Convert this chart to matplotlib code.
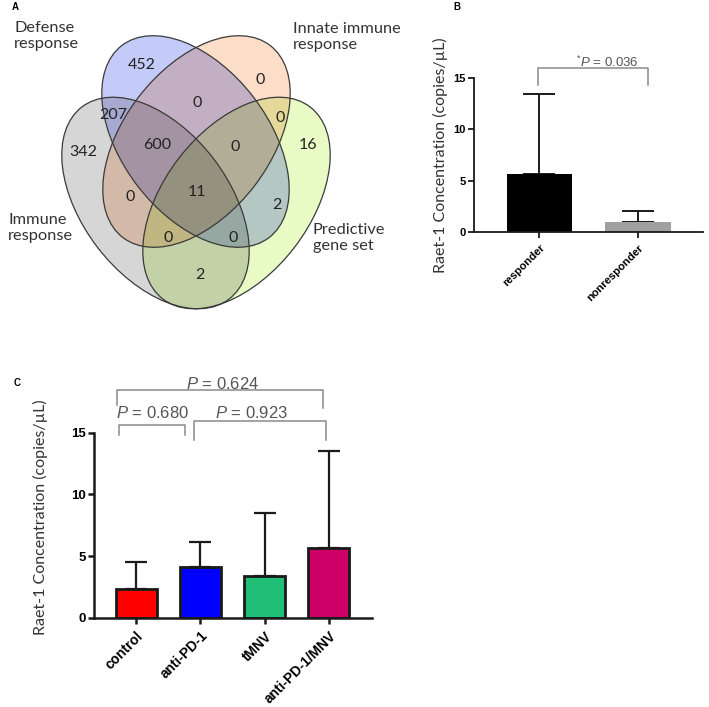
import matplotlib
matplotlib.use("Agg")
import matplotlib.pyplot as plt
import numpy as np
from matplotlib.patches import Ellipse

plt.rcParams["mathtext.fontset"] = "custom"
plt.rcParams["mathtext.rm"] = "Liberation Sans"
plt.rcParams["mathtext.it"] = "Liberation Sans:italic"

# ---- data ----
# panel A: gene counts per Venn region
venn_counts = [452, 0, 0, 207, 0, 342, 600, 0, 16, 0, 11, 2, 0, 0, 2]
set_names = ["Immune\nresponse", "Defense\nresponse",
             "Innate immune\nresponse", "Predictive\ngene set"]

# panel B
b_groups = ["responder", "nonresponder"]
b_means = [5.64, 0.98]
b_upper = [13.47, 2.02]
b_pval = "0.036"

# panel C
c_groups = ["control", "anti-PD-1", "tMNV", "anti-PD-1/MNV"]
c_means = [2.30, 4.08, 3.38, 5.62]
c_upper = [4.49, 6.11, 8.46, 13.54]
c_pvals = ["0.680", "0.923", "0.624"]

ylab = "Raet-1 Concentration (copies/\u00b5L)"
calibri = ["Lato", "DejaVu Sans"]
arial = ["Liberation Sans", "DejaVu Sans"]

# ---- layout (pixels) ----
W, H = 709, 707
region_xy = [(142, 65), (260, 80), (197, 103), (113, 115), (280, 118),
             (83, 152), (157, 145), (235, 147), (308, 145), (130, 197),
             (197, 192), (277, 205), (168, 238), (233, 238), (200, 275)]
# ellipses: immune, defense, innate, predictive
ell_center = [(155.5, 203), (195.5, 141.5), (196.5, 141.5), (236.5, 203)]
ell_angle = [52.5, 52.5, -52.5, -52.5]
ell_a, ell_b = 121, 73
ell_rgb = [(214, 214, 214), (198, 203, 250), (252, 221, 199), (232, 251, 198)]
label_xy = [(8, 228), (14, 36), (293, 37), (313, 238)]


def fx(px):
    return px / W


def fy(py):
    return 1 - py / H


fig = plt.figure(figsize=(W / 100, H / 100), dpi=100)

# ---- panel A ----
axv = fig.add_axes([0, 0, 1, 1], zorder=0)
# overlapping regions darken like multiplied transparent layers
ys, xs = np.mgrid[0:330:0.5, 0:360:0.5] + 0.25
img = np.ones(xs.shape + (4,))
img[..., 3] = 0
for (cx, cy), ang, col in zip(ell_center, ell_angle, ell_rgb):
    t = np.deg2rad(ang)
    dx, dy = xs - cx, ys - cy
    u = dx * np.cos(t) + dy * np.sin(t)
    v = -dx * np.sin(t) + dy * np.cos(t)
    inside = (u / ell_a) ** 2 + (v / ell_b) ** 2 <= 1
    img[inside, :3] *= np.array(col) / 255
    img[inside, 3] = 1
axv.imshow(img, extent=(0, 360, 330, 0), interpolation="bilinear", aspect="auto")
for (cx, cy), ang in zip(ell_center, ell_angle):
    axv.add_patch(Ellipse((cx, cy), 2 * ell_a, 2 * ell_b, angle=ang,
                          facecolor="none", edgecolor="#3a3a3a", lw=0.9))
axv.set_xlim(0, W)
axv.set_ylim(H, 0)
axv.axis("off")
for n, (x, y) in zip(venn_counts, region_xy):
    axv.text(x, y, str(n), ha="center", va="center", fontsize=11.5,
             family=calibri, color="#222222")
for name, (x, y) in zip(set_names, label_xy):
    axv.text(x, y, name, ha="left", va="center", fontsize=11.8,
             family=calibri, color="#333333", linespacing=1.25)

for letter, (x, y) in zip("ABC", [(15, 7), (457, 7), (17, 383)]):
    fig.text(fx(x), fy(y), letter, ha="center", va="center", fontsize=7,
             fontweight="bold", family=arial)


def style_axes(ax, lw, fs):
    ax.patch.set_alpha(0)
    for s in ["top", "right"]:
        ax.spines[s].set_visible(False)
    for s in ["left", "bottom"]:
        ax.spines[s].set_linewidth(lw)
        ax.spines[s].set_color("#1a1a1a")
    ax.set_ylim(0, 15)
    ax.set_yticks([0, 5, 10, 15])
    ax.tick_params(direction="out", length=4, width=lw, color="#1a1a1a", pad=2)
    for t in ax.get_yticklabels():
        t.set_fontweight("bold")
        t.set_fontsize(fs)
        t.set_family(arial)


def bracket(ax, x0, x1, ytop, yl, yr, text, tx, ty, fs):
    ax.plot([x0, x0, x1, x1], [yl, ytop, ytop, yr], color="#8a8a8a",
            lw=1.1, clip_on=False)
    ax.text(tx, ty, text, ha="center", va="center", fontsize=fs,
            family=arial, color="#555555", clip_on=False)


# ---- panel B ----
axb = fig.add_axes([fx(474), fy(231.7), fx(703.3 - 474), (231.7 - 78.3) / H])
xb = range(len(b_groups))
axb.errorbar(xb, b_means, yerr=[[0] * 2, [u - m for u, m in zip(b_upper, b_means)]],
             fmt="none", ecolor="#1a1a1a", elinewidth=1.4, capsize=11.5,
             capthick=1.4, zorder=1)
axb.bar(xb, b_means, width=0.667, color=["#000000", "#a0a0a0"], zorder=2)
axb.set_xlim(-0.666, 1.666)
style_axes(axb, 1.3, 8)
axb.set_xticks(list(xb))
axb.set_xticklabels(b_groups, rotation=45, ha="right", rotation_mode="anchor",
                    fontsize=8, fontweight="bold", family=arial)
axb.tick_params(axis="x", pad=4)
bracket(axb, -0.02, 1.10, 16.01, 14.35, 14.35,
        r"$^{*}\mathit{P}$ = " + b_pval, 0.69, 16.6, 9.5)
fig.text(fx(440), fy(155), ylab, rotation=90, ha="center", va="center",
         fontsize=11.5, family=calibri, color="#333333")

# ---- panel C ----
axc = fig.add_axes([fx(94.3), fy(617.7), fx(371.7 - 94.3), (617.7 - 432.7) / H])
xc = range(len(c_groups))
axc.errorbar(xc, c_means, yerr=[[0] * 4, [u - m for u, m in zip(c_upper, c_means)]],
             fmt="none", ecolor="#1a1a1a", elinewidth=1.6, capsize=8,
             capthick=1.6, zorder=1)
axc.bar(xc, c_means, width=0.635, color=["#ff0000", "#0000ff", "#1fbf78", "#cc0066"],
        edgecolor="#1a1a1a", linewidth=2, zorder=2)
axc.set_xlim(-0.655, 3.67)
style_axes(axc, 1.8, 9.5)
axc.set_xticks(list(xc))
axc.set_xticklabels(c_groups, rotation=45, ha="right", rotation_mode="anchor",
                    fontsize=10, fontweight="bold", family=arial)
axc.tick_params(axis="x", pad=4)
bracket(axc, -0.27, 0.76, 15.62, 14.81, 14.81,
        r"$\mathit{P}$ = " + c_pvals[0], 0.25, 16.6, 12)
bracket(axc, 0.90, 2.96, 15.95, 14.4, 14.4,
        r"$\mathit{P}$ = " + c_pvals[1], 1.80, 16.6, 12)
bracket(axc, -0.30, 2.91, 18.46, 17.24, 17.0,
        r"$\mathit{P}$ = " + c_pvals[2], 1.35, 18.95, 12)
fig.text(fx(40), fy(517), ylab, rotation=90, ha="center", va="center",
         fontsize=11.5, family=calibri, color="#333333")

fig.savefig("out.png", dpi=100)
